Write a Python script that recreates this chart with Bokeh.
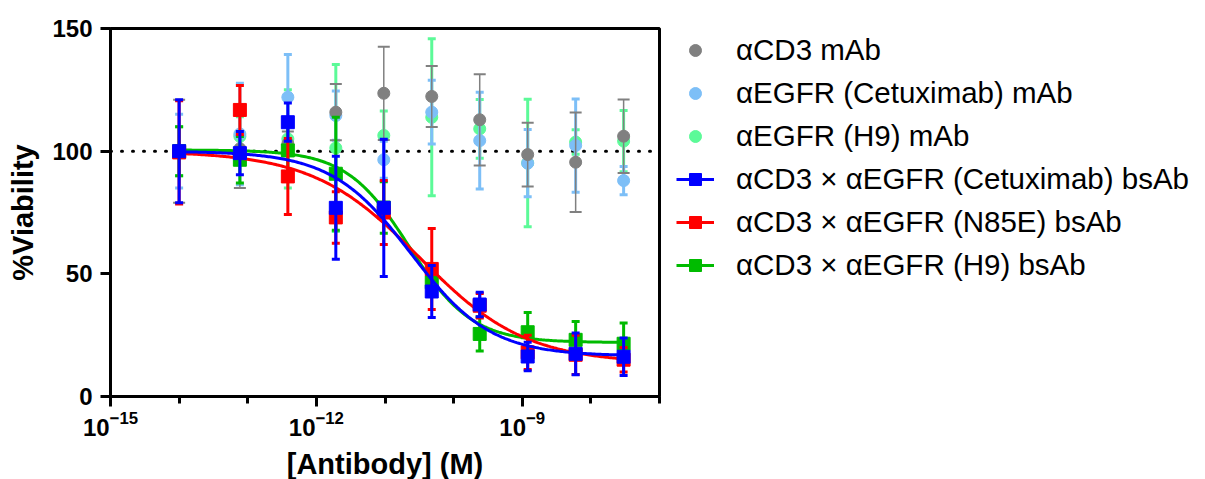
import numpy as np
from bokeh.plotting import figure
from bokeh.models import (ColumnDataSource, Range1d, FixedTicker, Span, Legend, LegendItem)
from bokeh.embed import file_html
from bokeh.resources import INLINE

# ---- data ----
conc = [1e-14, 7.68e-14, 3.84e-13, 1.92e-12, 9.6e-12, 4.8e-11, 2.4e-10, 1.2e-9, 6e-9, 3e-8]

cd3_mab = [100, 101, 103, 115.9, 123.6, 122.3, 112.8, 98.6, 95.5, 106.1]
cd3_mab_err = [21, 16, 5, 11.5, 19, 12.4, 18.6, 13, 20.3, 15]

cetux_mab = [100, 107, 122, 114.5, 96.5, 115.9, 104.3, 95.1, 102.3, 88]
cetux_mab_err = [15, 20.7, 17.4, 10, 7.5, 13, 19.7, 13.7, 19, 5.8]

h9_mab = [100, 106, 105, 101.3, 106.4, 113.8, 109.1, 95.2, 103.7, 104.1]
h9_mab_err = [10, 8, 20, 34, 10, 32, 12, 26, 5, 12.5]

cetux_bs = [100, 99.2, 111.8, 76.9, 76.9, 42.8, 37.5, 16.3, 17.4, 16.2]
cetux_bs_err = [21, 8.8, 7.8, 21, 28, 10.6, 5, 5.8, 8.5, 7.6]

n85e_bs = [99.5, 116.8, 89.7, 73, 75, 52, 37, 18, 17, 15]
n85e_bs_err = [21, 10, 15.5, 10.5, 13, 16.5, 5, 7, 8, 5]

h9_bs = [100, 96.5, 100.3, 90.8, 77, 46.6, 25.5, 26.2, 23.1, 21.5]
h9_bs_err = [10, 9.5, 11, 23, 10.5, 5, 7, 8, 7.5, 8.5]

# four-parameter logistic fit parameters (top, bottom, logEC50, hill)
fit_cetux = [100, 16.5, -10.62, 0.75]
fit_n85e = [100, 13.5, -10.50, 0.56]
fit_h9 = [100.5, 22.0, -10.65, 0.95]

labels = ["\u03b1CD3 mAb",
          "\u03b1EGFR (Cetuximab) mAb",
          "\u03b1EGFR (H9) mAb",
          "\u03b1CD3 \u00d7 \u03b1EGFR (Cetuximab) bsAb",
          "\u03b1CD3 \u00d7 \u03b1EGFR (N85E) bsAb",
          "\u03b1CD3 \u00d7 \u03b1EGFR (H9) bsAb"]

x_ticks = [1e-15, 1e-12, 1e-9]
x_minor = [1e-14, 1e-13, 1e-11, 1e-10, 1e-8, 1e-7]
y_ticks = [0, 50, 100, 150]

FONT = "Liberation Sans"

p = figure(frame_width=549, frame_height=368, x_axis_type="log",
           x_range=Range1d(1e-15, 1e-7), y_range=Range1d(0, 150),
           output_backend="svg", toolbar_location=None,
           min_border_left=110, min_border_top=28, min_border_bottom=82,
           min_border_right=0)
p.grid.visible = False
p.outline_line_color = "black"
p.outline_line_width = 3
p.background_fill_color = "white"
p.border_fill_color = "white"

p.xaxis.ticker = FixedTicker(ticks=x_ticks, minor_ticks=x_minor)
p.yaxis.ticker = FixedTicker(ticks=y_ticks, minor_ticks=[])
for ax in (p.xaxis, p.yaxis):
    ax.axis_line_width = 3
    ax.major_tick_line_width = 3
    ax.minor_tick_line_width = 3
    ax.major_tick_out = 10
    ax.major_tick_in = 0
    ax.minor_tick_out = 7
    ax.minor_tick_in = 0
    ax.major_label_text_font = FONT
    ax.major_label_text_font_style = "bold"
    ax.major_label_text_font_size = "24px"
    ax.major_label_text_color = "black"
    ax.axis_label_text_font = FONT
    ax.axis_label_text_font_style = "bold"
    ax.axis_label_text_font_size = "29px"
    ax.axis_label_text_color = "black"
p.xaxis.axis_label = "[Antibody] (M)"
p.yaxis.axis_label = "%Viability"
p.xaxis.major_label_standoff = 4
p.xaxis.axis_label_standoff = 9
p.yaxis.major_label_standoff = 8
p.yaxis.axis_label_standoff = 10

p.add_layout(Span(location=100, dimension="width", line_color="black",
                  line_width=3, line_dash="1 10", line_cap="round", level="underlay"))


def err_source(vals, errs):
    return ColumnDataSource(dict(
        x=conc, y=vals,
        upper=[v + e for v, e in zip(vals, errs)],
        lower=[v - e for v, e in zip(vals, errs)]))


def errbars(src, color, width, cap):
    p.segment(x0="x", y0="lower", x1="x", y1="upper", source=src,
              line_color=color, line_width=width)
    p.scatter(x="x", y="upper", source=src, marker="dash", size=cap,
              line_color=color, line_width=3 if width > 2 else 2)
    p.scatter(x="x", y="lower", source=src, marker="dash", size=cap,
              line_color=color, line_width=3 if width > 2 else 2)


renderers = {}

# mAbs (circles)
for key, vals, errs, color, w, cap in [
        ("h9m", h9_mab, h9_mab_err, "#5CFA98", 3, 8),
        ("cxm", cetux_mab, cetux_mab_err, "#7DBFF7", 3, 8),
        ("cd3", cd3_mab, cd3_mab_err, "#808080", 1.5, 12)]:
    src = err_source(vals, errs)
    errbars(src, color, w, cap)
    renderers[key] = p.scatter(x="x", y="y", source=src, marker="circle", size=12,
                               fill_color=color, line_color=color)


def curve(params):
    top, bottom, logec, hill = params
    xs = np.logspace(np.log10(conc[0]), np.log10(conc[-1]), 300)
    ys = bottom + (top - bottom) / (1 + 10 ** ((np.log10(xs) - logec) * hill))
    return xs, ys


for key, vals, errs, params, color in [
        ("h9b", h9_bs, h9_bs_err, fit_h9, "#00BB00"),
        ("n85", n85e_bs, n85e_bs_err, fit_n85e, "#FF0000"),
        ("cxb", cetux_bs, cetux_bs_err, fit_cetux, "#0000FF")]:
    xs, ys = curve(params)
    lr = p.line(xs, ys, line_color=color, line_width=3)
    src = err_source(vals, errs)
    errbars(src, color, 3, 8)
    sr = p.scatter(x="x", y="y", source=src, marker="square", size=13,
                   fill_color=color, line_color=color)
    renderers[key] = [lr, sr]

items = [
    LegendItem(label=labels[0], renderers=[renderers["cd3"]]),
    LegendItem(label=labels[1], renderers=[renderers["cxm"]]),
    LegendItem(label=labels[2], renderers=[renderers["h9m"]]),
    LegendItem(label=labels[3], renderers=renderers["cxb"]),
    LegendItem(label=labels[4], renderers=renderers["n85"]),
    LegendItem(label=labels[5], renderers=renderers["h9b"]),
]
legend = Legend(items=items, location=(17, 114), padding=0, margin=0,
                border_line_color=None, background_fill_alpha=0,
                glyph_width=38, glyph_height=30, label_height=30, spacing=9,
                label_standoff=22, label_text_font=FONT, label_text_font_size="29.5px",
                label_text_color="black")
p.add_layout(legend, "right")

open("out.html", "w").write(file_html(p, INLINE))
